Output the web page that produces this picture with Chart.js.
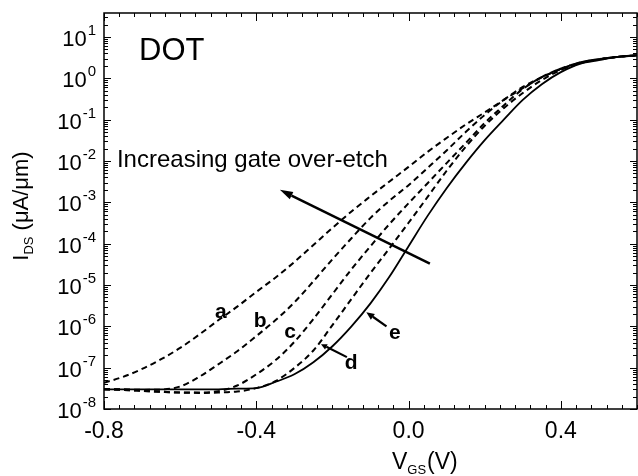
<!DOCTYPE html>
<html lang="en">
<head>
<meta charset="UTF-8">
<title>DOT transfer curves</title>
<script src="https://cdn.jsdelivr.net/npm/chart.js"></script>
<style>
  html, body { margin: 0; padding: 0; background: #fff; }
  canvas { display: block; }
</style>
</head>
<body>
<canvas id="chart" width="638" height="476"></canvas>
<script>
// gate voltage (V)
const vgs = [-0.8, -0.75, -0.7, -0.65, -0.6, -0.55, -0.5, -0.45, -0.4, -0.35, -0.3, -0.25, -0.2, -0.15, -0.1,
             -0.05, 0.0, 0.05, 0.1, 0.15, 0.2, 0.25, 0.3, 0.35, 0.4, 0.45, 0.5, 0.55, 0.6];
// drain current (uA/um)
const curveA = [4.3e-8, 6.0e-8, 9.3e-8, 1.6e-7, 3.0e-7, 6.3e-7, 1.4e-6, 3.0e-6, 6.8e-6, 1.5e-5, 3.6e-5, 9.3e-5,
                2.4e-4, 6.0e-4, 1.4e-3, 3.2e-3, 7.2e-3, 1.66e-2, 3.6e-2, 7.6e-2, 0.15, 0.30, 0.575, 1.05, 1.66,
                2.34, 2.88, 3.3, 3.6];
const curveB = [3.0e-8, 3.0e-8, 2.9e-8, 2.95e-8, 3.5e-8, 6.0e-8, 1.2e-7, 2.5e-7, 5.8e-7, 1.4e-6, 3.8e-6, 1.23e-5,
                4.2e-5, 1.35e-4, 4.2e-4, 1.1e-3, 2.6e-3, 6.8e-3, 1.8e-2, 5.0e-2, 0.13, 0.30, 0.62, 1.07, 1.7,
                2.4, 2.9, 3.3, 3.6];
const curveC = [3.0e-8, 2.9e-8, 2.75e-8, 2.6e-8, 2.5e-8, 2.5e-8, 2.7e-8, 3.7e-8, 6.9e-8, 1.5e-7, 4.2e-7, 1.5e-6,
                6.0e-6, 2.4e-5, 8.7e-5, 3.0e-4, 9.5e-4, 2.9e-3, 8.9e-3, 2.7e-2, 8.3e-2, 0.22, 0.55, 1.07, 1.72,
                2.4, 2.9, 3.3, 3.6];
const curveD = [3.0e-8, 2.9e-8, 2.75e-8, 2.6e-8, 2.5e-8, 2.45e-8, 2.5e-8, 2.65e-8, 3.2e-8, 4.7e-8, 9.8e-8, 2.6e-7,
                1.07e-6, 4.6e-6, 1.95e-5, 7.8e-5, 3.2e-4, 1.35e-3, 5.8e-3, 2.2e-2, 7.1e-2, 0.19, 0.44, 0.91, 1.58,
                2.3, 2.9, 3.3, 3.6];
const curveE = [3.0e-8, 3.0e-8, 3.0e-8, 3.0e-8, 3.0e-8, 3.0e-8, 3.0e-8, 3.1e-8, 3.2e-8, 4.5e-8, 6.9e-8, 1.35e-7,
                3.3e-7, 1.0e-6, 3.6e-6, 1.6e-5, 8.7e-5, 4.7e-4, 2.2e-3, 8.9e-3, 3.2e-2, 0.10, 0.30, 0.72, 1.41,
                2.24, 2.75, 3.3, 3.6];
const curveNames = ['a', 'b', 'c', 'd', 'e'];

const xTickValues = [-0.8, -0.4, 0.0, 0.4];
const xTickLabels = ['-0.8', '-0.4', '0.0', '0.4'];
const yTickExponents = [-8, -7, -6, -5, -4, -3, -2, -1, 0, 1];

const FONT = '"Liberation Sans", Arial, Helvetica, sans-serif';

function pts(ys) { return vgs.map((v, i) => ({ x: v, y: ys[i] })); }

function arrow(ctx, x1, y1, x2, y2, head, halfW) {
  // line from (x1,y1) to tip (x2,y2)
  const ang = Math.atan2(y2 - y1, x2 - x1);
  const bx = x2 - head * Math.cos(ang), by = y2 - head * Math.sin(ang);
  ctx.beginPath(); ctx.moveTo(x1, y1); ctx.lineTo(bx, by); ctx.stroke();
  ctx.beginPath();
  ctx.moveTo(x2, y2);
  ctx.lineTo(bx + halfW * Math.sin(ang), by - halfW * Math.cos(ang));
  ctx.lineTo(bx - halfW * Math.sin(ang), by + halfW * Math.cos(ang));
  ctx.closePath(); ctx.fill();
}

const decor = {
  id: 'decor',
  afterDraw(chart) {
    const { ctx, chartArea: ca, scales } = chart;
    const xs = scales.x, ys = scales.y;
    const X = v => xs.getPixelForValue(v), Y = v => ys.getPixelForValue(v);
    ctx.save();
    ctx.strokeStyle = '#000'; ctx.fillStyle = '#000';

    // x ticks, bottom and top, pointing inward
    ctx.lineWidth = 1;
    for (let i = 0; i <= 35; i++) {
      const v = -0.8 + i * 0.04;
      const px = Math.round(X(v)) + 0.5;
      const len = (i % 10 === 0) ? 8 : 4;
      ctx.beginPath();
      ctx.moveTo(px, ca.bottom); ctx.lineTo(px, ca.bottom - len);
      ctx.moveTo(px, ca.top); ctx.lineTo(px, ca.top + len);
      ctx.stroke();
    }
    // y ticks, left and right
    for (let e = -8; e <= 1; e++) {
      for (let k = 1; k <= 9; k++) {
        const val = k * Math.pow(10, e);
        if (val > ys.max) break;
        const py = Math.round(Y(val)) + 0.5;
        const len = k === 1 ? 7 : 4;
        ctx.beginPath();
        ctx.moveTo(ca.left, py); ctx.lineTo(ca.left + len, py);
        ctx.moveTo(ca.right, py); ctx.lineTo(ca.right - len, py);
        ctx.stroke();
      }
    }
    // frame
    ctx.lineWidth = 1.5;
    ctx.strokeRect(ca.left, ca.top, ca.right - ca.left, ca.bottom - ca.top);

    // x tick labels
    ctx.font = '23px ' + FONT;
    ctx.textAlign = 'center'; ctx.textBaseline = 'alphabetic';
    xTickValues.forEach((v, i) => ctx.fillText(xTickLabels[i], X(v), ca.bottom + 29));

    // y tick labels 10^n
    yTickExponents.forEach(n => {
      const py = Y(Math.pow(10, n));
      const sup = String(n);
      ctx.font = '15px ' + FONT;
      const ws = ctx.measureText(sup).width;
      ctx.textAlign = 'left';
      const right = ca.left - 8;
      ctx.fillText(sup, right - ws, py - 2);
      ctx.font = '22px ' + FONT;
      ctx.textAlign = 'right';
      ctx.fillText('10', right - ws - 1, py + 9);
    });

    // x title  V_GS(V)
    ctx.textAlign = 'left';
    let tx = 392;
    ctx.font = '23px ' + FONT; ctx.fillText('V', tx, 469); tx += ctx.measureText('V').width;
    ctx.font = '13px ' + FONT; ctx.fillText('GS', tx, 474); tx += ctx.measureText('GS').width + 1;
    ctx.font = '23px ' + FONT; ctx.fillText('(V)', tx, 469);

    // y title  I_DS (uA/um), rotated
    ctx.save();
    ctx.translate(28, 206);
    ctx.rotate(-Math.PI / 2);
    ctx.font = '22px ' + FONT;
    const w1 = ctx.measureText('I').width;
    const w3 = ctx.measureText(' (\u03BCA/\u03BCm)').width;
    ctx.font = '13px ' + FONT;
    const w2 = ctx.measureText('DS').width;
    let ry = -(w1 + w2 + w3) / 2;
    ctx.font = '22px ' + FONT; ctx.fillText('I', ry, 0); ry += w1;
    ctx.font = '13px ' + FONT; ctx.fillText('DS', ry, 5); ry += w2;
    ctx.font = '22px ' + FONT; ctx.fillText(' (\u03BCA/\u03BCm)', ry, 0);
    ctx.restore();

    // panel name
    ctx.font = '31px ' + FONT;
    ctx.textAlign = 'left';
    ctx.fillText('DOT', X(-0.708), Y(2.8));

    // trend annotation
    ctx.font = '24px ' + FONT;
    ctx.fillText('Increasing gate over-etch', X(-0.766), Y(7.2e-3));
    ctx.lineWidth = 2.5;
    arrow(ctx, X(0.056), Y(3.3e-5), X(-0.338), Y(2.0e-3), 13, 4);

    // curve labels
    ctx.font = 'bold 21px ' + FONT;
    ctx.textAlign = 'center'; ctx.textBaseline = 'middle';
    ctx.fillText(curveNames[0], X(-0.493), Y(2.2e-6));
    ctx.fillText(curveNames[1], X(-0.390), Y(1.3e-6));
    ctx.fillText(curveNames[2], X(-0.311), Y(7.1e-7));
    ctx.fillText(curveNames[3], X(-0.151), Y(1.3e-7));
    ctx.fillText(curveNames[4], X(-0.036), Y(6.9e-7));
    ctx.lineWidth = 2.2;
    arrow(ctx, X(-0.058), Y(1.0e-6), X(-0.111), Y(2.2e-6), 8, 3.5);
    arrow(ctx, X(-0.162), Y(1.8e-7), X(-0.23), Y(3.7e-7), 6, 3);
    ctx.restore();
  }
};

const dashed = [6, 4];
const baseLine = { borderColor: '#000', pointRadius: 0, fill: false, cubicInterpolationMode: 'monotone' };

new Chart(document.getElementById('chart'), {
  type: 'line',
  data: {
    datasets: [
      Object.assign({ label: curveNames[0], data: pts(curveA), borderWidth: 2, borderDash: dashed }, baseLine),
      Object.assign({ label: curveNames[1], data: pts(curveB), borderWidth: 2, borderDash: dashed }, baseLine),
      Object.assign({ label: curveNames[2], data: pts(curveC), borderWidth: 2, borderDash: dashed }, baseLine),
      Object.assign({ label: curveNames[3], data: pts(curveD), borderWidth: 2, borderDash: dashed }, baseLine),
      Object.assign({ label: curveNames[4], data: pts(curveE), borderWidth: 1.8 }, baseLine)
    ]
  },
  options: {
    responsive: false,
    animation: false,
    devicePixelRatio: 1,
    layout: { padding: { top: 13, right: 1, left: 0, bottom: 0 } },
    plugins: { legend: { display: false }, tooltip: { enabled: false } },
    scales: {
      x: {
        type: 'linear', min: -0.8, max: 0.6,
        grid: { display: false }, border: { display: false },
        ticks: { display: false },
        afterFit: s => { s.height = 67; }
      },
      y: {
        type: 'logarithmic', min: 1e-8, max: 38,
        grid: { display: false }, border: { display: false },
        ticks: { display: false },
        afterFit: s => { s.width = 104; }
      }
    }
  },
  plugins: [decor]
});
</script>
</body>
</html>
